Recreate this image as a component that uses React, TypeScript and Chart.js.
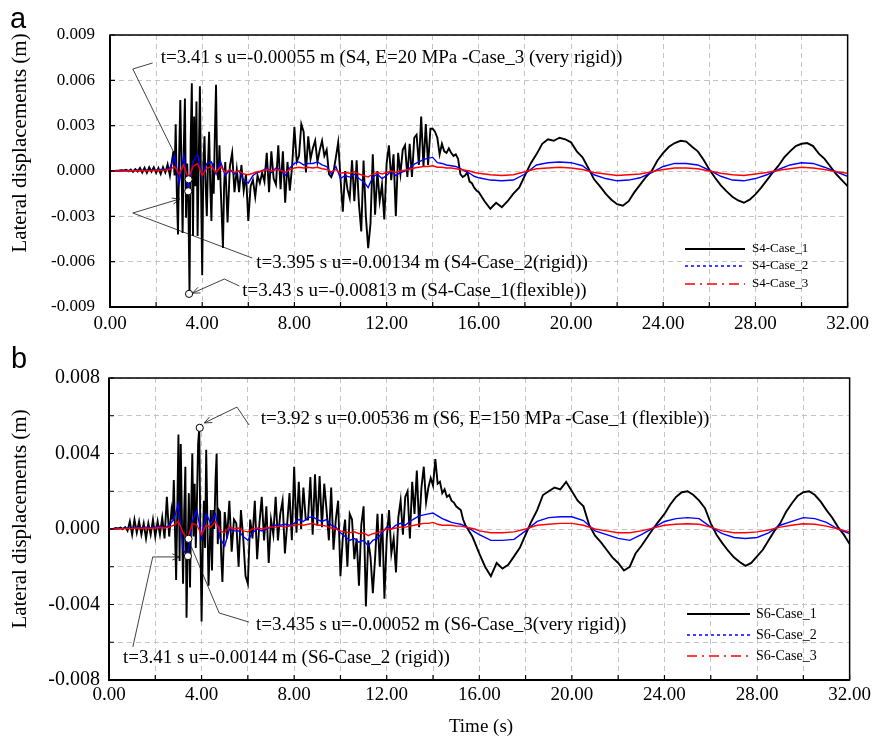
import React, { useEffect, useRef } from "react";
import { Chart, registerables } from "chart.js";

Chart.register(...registerables);

// ---------------- DATA (displacements in mm = 0.001 m) ----------------
// Each series = uniformly sampled segments: [start time (s), time step (s), values]

// Panel a : S4
const S4_C1_A = [0, 0, 0, 0.02, 0.03, 0.05, 0.04, 0.08, -0.02, 0.1, -0.05, 0.12, -0.03, 0.2, -0.1, 0.22, -0.12, 0.25, -0.05, 0.25, -0.12, 0.2, -0.2, 0.25, -0.1, 0.45, -0.3, 0.8];
const S4_C1_B = [1.3, -0.3, 3.1, -1.5, -4.2, 1.0, 4.7, 0.5, -4.1, 1.5, 4.8, -3.1, 0.5, -2.0, -8.13, 2.0, 5.8, -4.3, 3.6, -1.0, 4.6, -4.3, 0.8, 5.6, -1.0, -6.9, 0.5, 2.3, -1.0, -3.0, 0.4, 2.6, -1.0, -3.3, 0.5, -1.5, 2.5, 5.7, 0.0, -0.6, 1.7, -1.0, -3.0, -5.1, -1.0];
const S4_C1_C = [
  0.6, -3.4, 0.3, 1.2, -1.4, 0.1, -1.4, 0.4, -1.3, -0.2,
  -3.3, -1.0, -0.6, -1.7, -0.3, -0.8, -0.1, -0.7, 1.2, -1.4,
  1.3, -0.5, -0.9, 1.7, -1.2, 1.3, -2.1, 0.6, -1.3, 0.3,
  2.9, 0.6, 1.0, 3.1, 2.6, -0.1, 2.3, 0.8, 1.5, 2.0,
  0.6, 1.4, 2.0, 1.0, 1.4, -0.2, -0.4, 0.0, 0.9, 1.9,
  -0.5, -2.7, 0.0, -1.2, -1.8, 0.7, -2.0, 0.7, -2.2, -4.0,
  0.7, -3.0, -5.1, -3.5, 1.1, -2.9, 0.0, -2.0, -0.9, -3.2,
  0.5, 1.7, -0.6, 1.1, -3.0, 1.2, -0.2, 1.4, 1.7, -0.4,
  1.8, -0.4, 2.2, 2.4, 0.4, 3.6, 0.3, 3.1, 0.4, 2.8,
  2.8, 2.6, 2.2, 1.1, 1.8, 1.3, 1.2, 1.5, 1.2, 1.0,
  1.1, 0.8, -0.2, -0.4, -0.3, -0.1, -0.7, -0.8, -1.1, -1.3,
  -1.4,
];
const S4_C1_D = [
  -2.0, -2.5, -2.1, -2.4, -2.0, -1.5, -1.1, -0.3, 0.5, 1.1, 1.8, 2.1, 2.0, 2.2, 2.1, 1.9,
  1.3, 0.9, 0.2, -0.55, -1.0, -1.5, -1.9, -2.2, -2.3, -2.0, -1.4, -0.9, -0.4, 0.0, 0.7, 1.2,
  1.6, 1.85, 2.0, 1.95, 1.6, 1.3, 0.75, 0.1, -0.45, -0.95, -1.35, -1.7, -1.95, -2.1, -1.9, -1.55,
  -1.1, -0.6, -0.1, 0.35, 0.9, 1.3, 1.65, 1.8, 1.85, 1.65, 1.15, 0.8, 0.3, -0.2, -0.6, -1.0,
];
const S4_C2_A = [
  0, 0, 0, 0.02, 0.03, 0.02, 0.05, 0.03, 0.06, 0.04,
  0.05, 0.1, 0.05, 0.2, 1.0, -0.8, 1.0, -1.34, 0.6, 1.1,
  -0.4, 0.5, 0.6, -0.2, 0.6, -0.3, 0.1, -0.2, 0.0, -0.6,
  -0.8, -0.3, -0.1, 0.0, 0.2, -0.1, 0.2, 0.1, -0.3, 0.2,
  0.5, 0.6, 0.4, 0.5, 0.5, 0.6, 0.4, 0.3, -0.2, 0.3,
  -0.5, -0.3, -0.4, -0.2, -0.5, -0.7, -1.1, -0.4, -0.2, -0.5,
  -0.3, 0.0, -0.3, -0.1, 0.0, 0.2, 0.45, 0.6, 0.75, 0.85,
  0.9, 0.55, 0.5, 0.4, 0.35, 0.3, 0.15, 0.0, -0.15, -0.35,
  -0.45,
];
const S4_C2_B = [-0.6, -0.65, -0.6, -0.2, 0.4, 0.55, 0.6, 0.55, 0.35, -0.25, -0.5, -0.65, -0.6, -0.45, -0.1, 0.3, 0.5, 0.5, 0.4, 0.05, -0.35, -0.6, -0.65, -0.5, -0.25, 0.1, 0.4, 0.55, 0.5, 0.25, -0.05, -0.35];
const S4_C3_A = [
  0, 0, 0, 0, 0, 0.02, 0.02, 0.03, 0.02, 0.03,
  0.05, 0.03, 0.05, 0.1, 0.3, -0.2, 0.4, -0.55, 0.3, 0.5,
  -0.3, 0.2, 0.3, -0.1, 0.3, -0.1, 0.1, -0.1, 0.0, -0.2,
  -0.25, -0.15, -0.05, 0.0, 0.1, 0.0, 0.1, 0.05, -0.1, 0.1,
  0.2, 0.25, 0.2, 0.25, 0.2, 0.25, 0.15, 0.1, -0.05, 0.1,
  -0.15, -0.1, -0.15, -0.05, -0.2, -0.3, -0.4, -0.2, -0.1, -0.2,
  -0.1, 0.0, -0.1, 0.0, 0.05, 0.1, 0.2, 0.25, 0.3, 0.3,
  0.35, 0.25, 0.25, 0.2, 0.2, 0.15, 0.1, 0.05, 0.0, -0.1,
  -0.15,
];
const S4_C3_B = [-0.25, -0.3, -0.25, -0.05, 0.15, 0.2, 0.25, 0.2, 0.1, -0.1, -0.2, -0.3, -0.25, -0.2, -0.05, 0.1, 0.2, 0.2, 0.15, 0.0, -0.15, -0.25, -0.3, -0.2, -0.1, 0.05, 0.15, 0.25, 0.2, 0.1, -0.05, -0.15];

// Panel b : S6
const S6_C1_A = [0, 0, 0.02, 0.05, 0.03, 0.08, 0.0, 0.1, -0.1, 0.4, -0.3, 0.5, -0.2, 0.4, -0.3, 0.3, -0.5, 0.3, -0.3, 0.5, -0.4, 0.4, -0.3, 0.6, -0.5, 1.7, -0.4, 1.0];
const S6_C1_B = [0.5, 2.6, 0.0, -2.7, 1.0, 5.0, -1.7, 4.5, 0.5, -2.9, 1.0, 3.3, -4.7, -1.0, 1.9, -3.1, 1.0, 4.0, -0.4, 2.4, -1.0, 1.5, 4.5, 5.36, -0.6, -4.9, -1.0, 1.5, -1.0, 4.2, 0.5, -3.0, -1.0, 1.0, -2.2, 1.0, 0.0, 2.5, 4.0, -0.8, 1.0, 0.9, -1.5, -2.8, -1.0];
const S6_C1_C = [
  0.9, -0.5, 1.5, -1.2, 0.5, 0.3, -2.0, 1.0, -0.5, -2.5,
  -2.9, 0.5, -0.5, 1.5, -1.6, 0.3, 1.7, -0.6, 1.2, -1.8,
  0.5, -0.3, 1.7, -0.6, 0.8, 1.5, -1.3, 0.3, 1.9, -0.6,
  3.3, -0.2, 2.5, 0.0, 2.2, 0.5, 0.5, 2.75, -0.3, 2.9,
  0.2, 2.8, 0.1, 2.4, 1.0, -0.6, 2.2, -1.1, 0.5, 1.5,
  -2.5, -0.5, 0.5, -2.0, 0.8, 0.5, -1.6, -0.5, -3.0, 0.2,
  1.2, -4.1, -0.6, -1.5, -3.4, -1.5, 0.8, -2.0, 0.8, -3.7,
  -0.5, 1.0, -1.3, -0.5, -2.3, 0.6, 1.5, -0.3, 1.7, 2.0,
  -0.5, 2.5, 0.8, 3.1, 0.1, 2.2, 3.3, 1.4, 2.2, 2.7,
  2.3, 3.7, 2.4, 2.5, 1.9, 2.1, 1.7, 1.8, 1.5, 1.4,
  1.2, 1.1, 1.0, 0.5, 0.2, 0.0, -0.2, -0.4, -0.7, -1.0,
  -1.3,
];
const S6_C1_D = [
  -2.0, -2.5, -1.8, -2.1, -1.9, -1.45, -1.0, -0.3, 0.4, 1.0, 1.8, 2.0, 2.2, 2.1, 2.5, 2.0,
  1.5, 1.2, 0.2, -0.35, -0.7, -1.1, -1.5, -1.8, -2.2, -2.0, -1.3, -0.9, -0.45, 0.0, 0.4, 0.8,
  1.3, 1.7, 1.95, 2.0, 1.8, 1.5, 1.1, 0.3, -0.3, -0.75, -1.15, -1.5, -1.75, -1.95, -1.8, -1.45,
  -1.1, -0.6, -0.1, 0.3, 0.9, 1.35, 1.75, 1.95, 2.0, 1.8, 1.45, 1.0, 0.6, 0.1, -0.3, -0.8,
];
const S6_C2_A = [
  0, 0, 0.02, 0.03, 0.05, 0.03, 0.1, 0.05, 0.1, 0.05,
  0.1, 0.15, 0.05, 0.2, 0.5, 1.35, -1.1, -1.44, 0.4, 1.0,
  -0.5, 0.8, 0.3, 0.8, -0.5, -0.9, 0.0, -0.1, -0.1, -0.4,
  -0.6, -0.2, 0.0, -0.1, 0.0, 0.1, 0.2, 0.2, 0.25, 0.2,
  0.3, 0.5, 0.4, 0.6, 0.65, 0.5, 0.4, 0.5, 0.2, 0.1,
  -0.2, -0.4, -0.6, -0.5, -0.7, -0.6, -0.9, -0.6, -0.5, -0.2,
  0.1, 0.0, 0.2, 0.3, 0.2, 0.4, 0.55, 0.7, 0.75, 0.8,
  0.85, 0.7, 0.55, 0.45, 0.35, 0.3, 0.25, 0.15, 0.0, -0.15,
  -0.3,
];
const S6_C2_B = [-0.6, -0.6, -0.55, -0.1, 0.4, 0.6, 0.65, 0.65, 0.45, -0.1, -0.3, -0.5, -0.6, -0.3, 0.05, 0.4, 0.55, 0.6, 0.55, 0.1, -0.25, -0.45, -0.5, -0.45, -0.2, 0.2, 0.4, 0.6, 0.55, 0.35, 0.0, -0.25];
const S6_C3_A = [
  0, 0, 0, 0.02, 0.03, 0.02, 0.05, 0.03, 0.05, 0.03,
  0.05, 0.08, 0.05, 0.1, 0.2, 0.4, -0.2, -0.52, 0.3, 0.2,
  -0.3, 0.2, 0.1, 0.4, -0.1, -0.2, 0.1, 0.0, 0.05, -0.1,
  -0.15, 0.0, 0.05, 0.0, 0.05, 0.1, 0.1, 0.15, 0.1, 0.15,
  0.2, 0.25, 0.2, 0.25, 0.3, 0.2, 0.2, 0.15, 0.05, 0.0,
  -0.1, -0.15, -0.2, -0.15, -0.25, -0.2, -0.35, -0.25, -0.2, -0.1,
  0.0, 0.0, 0.05, 0.1, 0.1, 0.15, 0.2, 0.25, 0.3, 0.3,
  0.35, 0.25, 0.2, 0.2, 0.2, 0.15, 0.15, 0.1, 0.05, 0.0,
  -0.1,
];
const S6_C3_B = [-0.2, -0.2, -0.15, 0.0, 0.2, 0.25, 0.3, 0.3, 0.2, 0.0, -0.1, -0.2, -0.2, -0.1, 0.05, 0.2, 0.25, 0.28, 0.25, 0.1, -0.1, -0.2, -0.2, -0.15, -0.05, 0.1, 0.2, 0.28, 0.25, 0.15, 0.0, -0.15];

type Seg = [number, number, number[]];
const S4_CASE1: Seg[] = [[0, 0.1, S4_C1_A], [2.75, 0.05, S4_C1_B], [5.0, 0.1, S4_C1_C], [16.25, 0.25, S4_C1_D]];
const S4_CASE2: Seg[] = [[0, 0.2, S4_C2_A], [16.5, 0.5, S4_C2_B]];
const S4_CASE3: Seg[] = [[0, 0.2, S4_C3_A], [16.5, 0.5, S4_C3_B]];
const S6_CASE1: Seg[] = [[0, 0.1, S6_C1_A], [2.75, 0.05, S6_C1_B], [5.0, 0.1, S6_C1_C], [16.25, 0.25, S6_C1_D]];
const S6_CASE2: Seg[] = [[0, 0.2, S6_C2_A], [16.5, 0.5, S6_C2_B]];
const S6_CASE3: Seg[] = [[0, 0.2, S6_C3_A], [16.5, 0.5, S6_C3_B]];

const LABELS_A = ["S4-Case_1", "S4-Case_2", "S4-Case_3"];
const LABELS_B = ["S6-Case_1", "S6-Case_2", "S6-Case_3"];

// X axis: time (s)
const X_MIN = 0, X_MAX = 32, X_STEP = 2, X_LABEL_EVERY = 4;

// Annotations (data coords: t in s, u in mm)
type Ann = { pt: [number, number]; text: string; at: [number, number]; path: [number, number][]; arrow: boolean };
const ANN_A: Ann[] = [
  { pt: [3.41, -0.55], text: "t=3.41 s u=-0.00055 m (S4, E=20 MPa -Case_3 (very rigid))", at: [2.2, 7.48], path: [[1.85, 7.15], [0.99, 6.75], [2.8, 1.13]], arrow: false },
  { pt: [3.395, -1.34], text: "t=3.395 s u=-0.00134 m (S4-Case_2(rigid))", at: [6.34, -6.09], path: [[6.17, -5.76], [0.99, -2.78], [3.02, -1.85]], arrow: true },
  { pt: [3.43, -8.13], text: "t=3.43 s u=-0.00813 m (S4-Case_1(flexible))", at: [5.74, -7.94], path: [[5.61, -7.61], [4.96, -7.15], [3.58, -8.08]], arrow: true },
];
const ANN_B: Ann[] = [
  { pt: [3.92, 5.36], text: "t=3.92 s u=0.00536 m (S6, E=150 MPa -Case_1 (flexible))", at: [6.56, 5.83], path: [[6.05, 5.51], [5.53, 6.46], [4.12, 5.62]], arrow: true },
  { pt: [3.435, -0.52], text: "t=3.435 s u=-0.00052 m (S6-Case_3(very rigid))", at: [6.35, -5.09], path: [[3.56, -0.95], [4.76, -4.45], [6.05, -4.93]], arrow: false },
  { pt: [3.41, -1.44], text: "t=3.41 s u=-0.00144 m (S6-Case_2 (rigid))", at: [0.6, -6.83], path: [[1.03, -6.25], [1.89, -1.48], [3.05, -1.48]], arrow: true },
];

// ---------------- helpers ----------------
function buildSeries(segs: Seg[]) {
  const out: { x: number; y: number }[] = [];
  for (const [t0, dt, vals] of segs) {
    vals.forEach((v, i) => out.push({ x: Math.round((t0 + i * dt) * 1000) / 1000, y: v }));
  }
  return out;
}

const SERIF = "'Liberation Serif', 'Times New Roman', serif";
const SANS = "'Liberation Sans', Arial, sans-serif";
const COLORS = ["#000000", "#0000ff", "#ff0000"];
const DASHES = [[], [3, 3], [10, 5, 2, 5]];

type PanelCfg = {
  W: number; H: number; top: number;
  area: { left: number; right: number; top: number; bottom: number };
  yMin: number; yMax: number; yStep: number; yLabelEvery: number;
  yFont: number; xFont: number; xPad: number; yPad: number;
  series: Seg[][]; labels: string[]; ann: Ann[];
  legend: { x0: number; x1: number; tx: number; ys: number[]; font: number };
  yTitle: { x: number; y: number };
  panel: { text: string; x: number; y: number };
  xTitle?: { x: number; y: number };
};

const PANEL_A: PanelCfg = {
  W: 875, H: 345, top: 0,
  area: { left: 110, right: 852, top: 35, bottom: 307 },
  yMin: -9, yMax: 9, yStep: 3, yLabelEvery: 3, yFont: 17, xFont: 19, xPad: 6, yPad: 15,
  series: [S4_CASE1, S4_CASE2, S4_CASE3], labels: LABELS_A, ann: ANN_A,
  legend: { x0: 685, x1: 745, tx: 752, ys: [249, 266, 284], font: 13 },
  yTitle: { x: 20, y: 143 },
  panel: { text: "a", x: 10, y: 28 },
};

const PANEL_B: PanelCfg = {
  W: 875, H: 394, top: 345,
  area: { left: 109, right: 855, top: 33, bottom: 335 },
  yMin: -8, yMax: 8, yStep: 2, yLabelEvery: 4, yFont: 20, xFont: 19, xPad: 4, yPad: 9,
  series: [S6_CASE1, S6_CASE2, S6_CASE3], labels: LABELS_B, ann: ANN_B,
  legend: { x0: 687, x1: 750, tx: 756, ys: [269, 290, 311], font: 14 },
  yTitle: { x: 20, y: 174 },
  panel: { text: "b", x: 11, y: 23 },
  xTitle: { x: 481, y: 382 },
};

function decorPlugin(cfg: PanelCfg) {
  return {
    id: "decor",
    afterDraw(chart: any) {
      const { ctx, chartArea: a, scales } = chart;
      const X = (t: number) => scales.x.getPixelForValue(t);
      const Y = (u: number) => scales.y.getPixelForValue(u);
      ctx.save();
      ctx.setLineDash([]);
      // inward ticks
      ctx.strokeStyle = "#000";
      ctx.lineWidth = 1.2;
      ctx.beginPath();
      for (let t = X_MIN; t <= X_MAX; t += X_STEP) {
        const p = X(t);
        ctx.moveTo(p, a.bottom);
        ctx.lineTo(p, a.bottom - 5);
      }
      for (let v = cfg.yMin; v <= cfg.yMax; v += cfg.yStep) {
        const p = Y(v);
        ctx.moveTo(a.left, p);
        ctx.lineTo(a.left + 5, p);
      }
      ctx.stroke();
      // frame
      ctx.lineWidth = 1.5;
      ctx.strokeRect(a.left, a.top, a.right - a.left, a.bottom - a.top);
      ctx.lineWidth = 2;
      ctx.beginPath();
      ctx.moveTo(a.left, a.top);
      ctx.lineTo(a.left, a.bottom);
      ctx.lineTo(a.right, a.bottom);
      ctx.stroke();

      // annotations
      for (const an of cfg.ann) {
        ctx.strokeStyle = "#111";
        ctx.lineWidth = 0.8;
        ctx.beginPath();
        an.path.forEach(([t, u], i) => (i === 0 ? ctx.moveTo(X(t), Y(u)) : ctx.lineTo(X(t), Y(u))));
        ctx.stroke();
        if (an.arrow) {
          const n = an.path.length;
          const [t1, u1] = an.path[n - 2];
          const [t2, u2] = an.path[n - 1];
          const x1 = X(t1), y1 = Y(u1), x2 = X(t2), y2 = Y(u2);
          const ang = Math.atan2(y2 - y1, x2 - x1);
          const L = 8;
          ctx.beginPath();
          ctx.moveTo(x2 - L * Math.cos(ang - 0.4), y2 - L * Math.sin(ang - 0.4));
          ctx.lineTo(x2, y2);
          ctx.lineTo(x2 - L * Math.cos(ang + 0.4), y2 - L * Math.sin(ang + 0.4));
          ctx.stroke();
        }
        ctx.beginPath();
        ctx.arc(X(an.pt[0]), Y(an.pt[1]), 3.6, 0, Math.PI * 2);
        ctx.fillStyle = "#fff";
        ctx.fill();
        ctx.lineWidth = 1;
        ctx.strokeStyle = "#000";
        ctx.stroke();
        ctx.fillStyle = "#000";
        ctx.font = `19px ${SERIF}`;
        ctx.textAlign = "left";
        ctx.textBaseline = "middle";
        ctx.fillText(an.text, X(an.at[0]), Y(an.at[1]));
      }

      // legend
      const lg = cfg.legend;
      cfg.labels.forEach((lab, i) => {
        ctx.strokeStyle = COLORS[i];
        ctx.lineWidth = i === 0 ? 2 : 1.6;
        ctx.setLineDash(DASHES[i]);
        ctx.beginPath();
        ctx.moveTo(lg.x0, lg.ys[i]);
        ctx.lineTo(lg.x1, lg.ys[i]);
        ctx.stroke();
        ctx.setLineDash([]);
        ctx.fillStyle = "#000";
        ctx.font = `${lg.font}px ${SERIF}`;
        ctx.textAlign = "left";
        ctx.textBaseline = "middle";
        ctx.fillText(lab, lg.tx, lg.ys[i]);
      });

      // y title
      ctx.save();
      ctx.translate(cfg.yTitle.x, cfg.yTitle.y);
      ctx.rotate(-Math.PI / 2);
      ctx.font = `21px ${SERIF}`;
      ctx.textAlign = "center";
      ctx.textBaseline = "middle";
      ctx.fillStyle = "#000";
      ctx.fillText("Lateral displacements (m)", 0, 0);
      ctx.restore();

      if (cfg.xTitle) {
        ctx.font = `19px ${SERIF}`;
        ctx.textAlign = "center";
        ctx.textBaseline = "middle";
        ctx.fillStyle = "#000";
        ctx.fillText("Time (s)", cfg.xTitle.x, cfg.xTitle.y);
      }

      // panel letter
      ctx.font = `29px ${SANS}`;
      ctx.textAlign = "left";
      ctx.textBaseline = "alphabetic";
      ctx.fillStyle = "#000";
      ctx.fillText(cfg.panel.text, cfg.panel.x, cfg.panel.y);
      ctx.restore();
    },
  };
}

function Panel({ cfg }: { cfg: PanelCfg }) {
  const ref = useRef<HTMLCanvasElement>(null);
  useEffect(() => {
    const widths = [1.9, 1.4, 1.4];
    const datasets = cfg.series.map((segs, i) => ({
      label: cfg.labels[i],
      data: buildSeries(segs),
      borderColor: COLORS[i],
      backgroundColor: COLORS[i],
      borderWidth: widths[i],
      pointRadius: 0,
      tension: 0,
      fill: false,
      order: 3 - i,
    }));
    const chart = new Chart(ref.current as HTMLCanvasElement, {
      type: "line",
      data: { datasets },
      options: {
        responsive: false,
        animation: false,
        devicePixelRatio: 1,
        events: [],
        layout: { padding: { top: cfg.area.top, right: cfg.W - cfg.area.right, left: 0, bottom: 0 } },
        plugins: { legend: { display: false }, tooltip: { enabled: false } },
        scales: {
          x: {
            type: "linear",
            min: X_MIN,
            max: X_MAX,
            afterFit: (s: any) => { s.height = cfg.H - cfg.area.bottom; },
            ticks: {
              stepSize: X_STEP,
              autoSkip: false,
              maxRotation: 0,
              padding: cfg.xPad,
              color: "#000",
              font: { family: SERIF, size: cfg.xFont },
              callback: (v: any) => (Math.abs(v % X_LABEL_EVERY) < 1e-9 ? Number(v).toFixed(2) : ""),
            },
            grid: { color: "#c4c4c4", lineWidth: 1, drawTicks: false },
            border: { display: false, dash: [5, 4] },
          },
          y: {
            type: "linear",
            min: cfg.yMin,
            max: cfg.yMax,
            afterFit: (s: any) => { s.width = cfg.area.left; },
            ticks: {
              stepSize: cfg.yStep,
              autoSkip: false,
              padding: cfg.yPad,
              color: "#000",
              font: { family: SERIF, size: cfg.yFont },
              callback: (v: any) => (Math.abs(v % cfg.yLabelEvery) < 1e-9 ? (Number(v) / 1000).toFixed(3) : ""),
            },
            grid: { color: "#c4c4c4", lineWidth: 1, drawTicks: false },
            border: { display: false, dash: [5, 4] },
          },
        },
      },
      plugins: [decorPlugin(cfg)],
    } as any);
    return () => chart.destroy();
  }, [cfg]);
  return (
    <canvas
      ref={ref}
      width={cfg.W}
      height={cfg.H}
      style={{ position: "absolute", left: 0, top: cfg.top, width: cfg.W, height: cfg.H, display: "block" }}
    />
  );
}

export default function App() {
  return (
    <div style={{ position: "fixed", left: 0, top: 0, width: 875, height: 739, background: "#fff", overflow: "hidden" }}>
      <Panel cfg={PANEL_A} />
      <Panel cfg={PANEL_B} />
    </div>
  );
}
